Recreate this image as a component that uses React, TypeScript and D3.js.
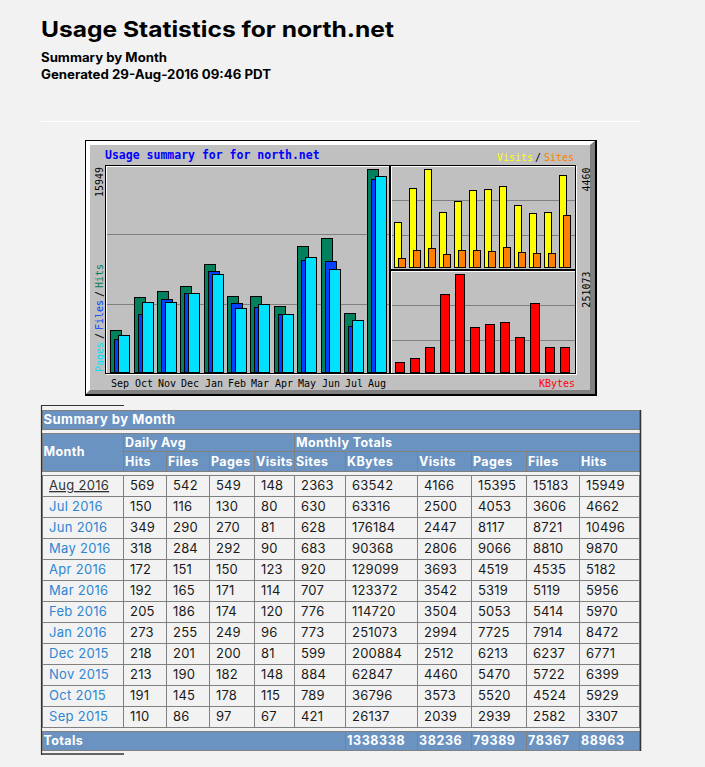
import React from "react";
import * as d3 from "d3";

// ---------- DATA (table order: newest first) ----------
const tableMonths = ["Aug 2016","Jul 2016","Jun 2016","May 2016","Apr 2016","Mar 2016","Feb 2016","Jan 2016","Dec 2015","Nov 2015","Oct 2015","Sep 2015"];
const dailyHits = [569,150,349,318,172,192,205,273,218,213,191,110];
const dailyFiles = [542,116,290,284,151,165,186,255,201,190,145,86];
const dailyPages = [549,130,270,292,150,171,174,249,200,182,178,97];
const dailyVisits = [148,80,81,90,123,114,120,96,81,148,115,67];
const monthSites = [2363,630,628,683,920,707,776,773,599,884,789,421];
const monthKBytes = [63542,63316,176184,90368,129099,123372,114720,251073,200884,62847,36796,26137];
const monthVisits = [4166,2500,2447,2806,3693,3542,3504,2994,2512,4460,3573,2039];
const monthPages = [15395,4053,8117,9066,4519,5319,5053,7725,6213,5470,5520,2939];
const monthFiles = [15183,3606,8721,8810,4535,5119,5414,7914,6237,5722,4524,2582];
const monthHits = [15949,4662,10496,9870,5182,5956,5970,8472,6771,6399,5929,3307];
const totalsValues = [1338338,38236,79389,78367,88963];

const dailyHeaders = ["Hits","Files","Pages","Visits"];
const monthlyHeaders = ["Sites","KBytes","Visits","Pages","Files","Hits"];

// chart series: chronological order
const chartMonths = tableMonths.map(m => m.slice(0, 3)).reverse();
const cHits = [...monthHits].reverse();
const cFiles = [...monthFiles].reverse();
const cPages = [...monthPages].reverse();
const cVisits = [...monthVisits].reverse();
const cSites = [...monthSites].reverse();
const cKBytes = [...monthKBytes].reverse();

// ---------- STYLE ----------
const GREY = "#C0C0C0";
const DKGREY = "#808080";
const GREEN = "#00805C";
const BLUE = "#0040FF";
const CYAN = "#00E0FF";
const YELLOW = "#FFFF00";
const ORANGE = "#FF8000";
const RED = "#FF0000";
const HDR = "#6B93C1";
const PAGEBG = "#F2F2F2";
const MONO = "'DejaVu Sans Mono', monospace";
const SANS = "Inter, 'DejaVu Sans', sans-serif";

function Bar({ x, w, y, y0, fill }: { x: number; w: number; y: number; y0: number; fill: string }) {
  const xt = Math.round(x) + 0.5;
  const yt = Math.round(y) + 0.5;
  return <rect x={xt} y={yt} width={w} height={Math.max(0, Math.round(y0) - Math.round(y))} fill={fill} stroke="#000" strokeWidth={1} />;
}

function Panel({ x0, y0, x1, y1, grid }: { x0: number; y0: number; x1: number; y1: number; grid: number[] }) {
  return (
    <g>
      {grid.map((g, i) => (
        <line key={i} x1={x0 + 1} x2={x1} y1={g + 0.5} y2={g + 0.5} stroke={DKGREY} strokeWidth={1} />
      ))}
      <rect x={x0 + 1.5} y={y0 + 1.5} width={x1 - x0} height={y1 - y0} fill="none" stroke="#fff" strokeWidth={1} />
      <rect x={x0 + 0.5} y={y0 + 0.5} width={x1 - x0} height={y1 - y0} fill="none" stroke="#000" strokeWidth={1} />
    </g>
  );
}

function VText({ x, y, text, fill, anchor = "start" }: { x: number; y: number; text: string; fill: string; anchor?: string }) {
  return (
    <text transform={`translate(${x},${y}) rotate(-90)`} fontFamily={MONO} fontSize={10} fill={fill} textAnchor={anchor as any}>
      {text}
    </text>
  );
}

export default function App() {
  const W = 705, H = 767;

  // chart scales
  const xMain = d3.scaleLinear().domain([0, 11]).range([110.3, 367.3]);
  const yMain = d3.scaleLinear().domain([0, d3.max(cHits) as number]).range([372, 169]);
  const xRight = d3.scaleLinear().domain([0, 11]).range([394, 559]);
  const yVis = d3.scaleLinear().domain([0, d3.max(cVisits) as number]).range([267, 169]);
  const yKb = d3.scaleLinear().domain([0, d3.max(cKBytes) as number]).range([372, 274]);

  // table scales
  const colEdges = [41.5, 123.5, 166.5, 209.5, 254.5, 294.5, 345.5, 417.5, 471.5, 526.5, 579.5, 639.5];
  const rowScale = d3.scaleBand<string>().domain(tableMonths).range([475.5, 727.5]);
  const rowH = rowScale.bandwidth();
  const dataCols = [dailyHits, dailyFiles, dailyPages, dailyVisits, monthSites, monthKBytes, monthVisits, monthPages, monthFiles, monthHits];
  const fmt = d3.format("d");

  const hdrText = { fontSize: 12.5, fontWeight: 700, fill: "#fff", letterSpacing: 0.4 } as any;

  return (
    <div style={{ position: "absolute", left: 0, top: 0, width: W, height: H }}>
      <svg width={W} height={H} style={{ display: "block" }}>
        <rect width={W} height={H} fill={PAGEBG} />

        {/* page heading */}
        <text x={41} y={37} fontFamily={SANS} fontWeight={700} fontSize={22} fill="#000" textLength={353} lengthAdjust="spacingAndGlyphs">
          Usage Statistics for north.net
        </text>
        <text x={41} y={61.5} fontFamily={SANS} fontWeight={700} fontSize={12.5} fill="#000" textLength={126} lengthAdjust="spacingAndGlyphs">
          Summary by Month
        </text>
        <text x={41} y={79} fontFamily={SANS} fontWeight={700} fontSize={12.5} fill="#000" textLength={230} lengthAdjust="spacingAndGlyphs">
          Generated 29-Aug-2016 09:46 PDT
        </text>
        <line x1={41} x2={640} y1={121.5} y2={121.5} stroke="#fff" strokeWidth={1} />

        {/* ---------- chart image ---------- */}
        <rect x={85} y={140} width={512} height={256} fill="#000" />
        <rect x={86} y={141} width={509} height={253} fill={GREY} />
        <polygon points="86,141 595,141 590,145 90,145 90,390 86,394" fill="#fff" />
        <polygon points="595,141 595,394 86,394 90,390 590,390 590,145" fill={DKGREY} />

        <text x={105} y={159} fontFamily={MONO} fontWeight={700} fontSize={11.5} fill="#0000FF">
          Usage summary for for north.net
        </text>

        <Panel x0={105} y0={165} x1={389} y1={373} grid={[234, 304]} />
        <Panel x0={390} y0={165} x1={575} y1={269} grid={[200, 235]} />
        <Panel x0={390} y0={270} x1={575} y1={373} grid={[305, 340]} />

        {/* main bars: hits / files / pages */}
        {chartMonths.map((m, i) => {
          const x = Math.round(xMain(i));
          return (
            <g key={m}>
              <Bar x={x} w={11} y={yMain(cHits[i])} y0={yMain(0)} fill={GREEN} />
              <Bar x={x + 4} w={11} y={yMain(cFiles[i])} y0={yMain(0)} fill={BLUE} />
              <Bar x={x + 8} w={11} y={yMain(cPages[i])} y0={yMain(0)} fill={CYAN} />
              <text x={x + 10} y={387} fontFamily={MONO} fontSize={10} fill="#000" textAnchor="middle">
                {m}
              </text>
            </g>
          );
        })}

        {/* visits / sites */}
        {chartMonths.map((m, i) => {
          const x = Math.round(xRight(i));
          return (
            <g key={"v" + m}>
              <Bar x={x} w={7} y={yVis(cVisits[i])} y0={yVis(0)} fill={YELLOW} />
              <Bar x={x + 4} w={7} y={yVis(cSites[i])} y0={yVis(0)} fill={ORANGE} />
            </g>
          );
        })}

        {/* kbytes */}
        {chartMonths.map((m, i) => {
          const x = Math.round(xRight(i)) + 1;
          return <Bar key={"k" + m} x={x} w={9} y={yKb(cKBytes[i])} y0={yKb(0)} fill={RED} />;
        })}

        {/* axis labels */}
        <VText x={102.5} y={167} text={fmt(d3.max(cHits) as number)} fill="#000" anchor="end" />
        <VText x={589.5} y={167.5} text={fmt(d3.max(cVisits) as number)} fill="#000" anchor="end" />
        <VText x={589.5} y={271.5} text={fmt(d3.max(cKBytes) as number)} fill="#000" anchor="end" />

        <VText x={102.5} y={372} text="Pages" fill={CYAN} />
        <VText x={102.5} y={339} text="/" fill="#000" />
        <VText x={102.5} y={330} text="Files" fill={BLUE} />
        <VText x={102.5} y={297} text="/" fill="#000" />
        <VText x={102.5} y={288} text="Hits" fill={GREEN} />

        <text y={160.5} fontFamily={MONO} fontSize={10}>
          <tspan x={497} fill={YELLOW}>Visits</tspan>
          <tspan x={535} fill="#000">/</tspan>
          <tspan x={544} fill={ORANGE}>Sites</tspan>
        </text>
        <text x={539} y={386.5} fontFamily={MONO} fontSize={10} fill={RED}>
          KBytes
        </text>

        {/* ---------- table ---------- */}
        <g fontFamily={SANS}>
          {/* header band */}
          <rect x={42.5} y={410.5} width={597} height={19} fill={HDR} stroke={DKGREY} />
          <text x={43.5} y={424} {...hdrText} fontSize={13} letterSpacing={0.5}>Summary by Month</text>

          <rect x={42.5} y={433.5} width={81} height={38} fill={HDR} stroke={DKGREY} />
          <text x={43.5} y={456} {...hdrText}>Month</text>

          <rect x={colEdges[1]} y={433.5} width={colEdges[5] - colEdges[1]} height={18} fill={HDR} stroke={DKGREY} />
          <text x={colEdges[1] + 1.5} y={447} {...hdrText}>Daily Avg</text>
          <rect x={colEdges[5]} y={433.5} width={colEdges[11] - colEdges[5]} height={18} fill={HDR} stroke={DKGREY} />
          <text x={colEdges[5] + 1.5} y={447} {...hdrText}>Monthly Totals</text>

          {[...dailyHeaders, ...monthlyHeaders].map((h, c) => (
            <g key={"h" + c}>
              <rect x={colEdges[c + 1]} y={451.5} width={colEdges[c + 2] - colEdges[c + 1]} height={20} fill={HDR} stroke={DKGREY} />
              <text x={colEdges[c + 1] + 1.5} y={466} {...hdrText}>{h}</text>
            </g>
          ))}

          {/* data rows */}
          {tableMonths.map((m, r) => {
            const y = rowScale(m) as number;
            return (
              <g key={"r" + m}>
                <rect x={42.5} y={y} width={colEdges[1] - 42.5} height={rowH} fill="none" stroke={DKGREY} />
                <text x={49} y={y + 14.5} fontSize={13} letterSpacing={0.3} fill={r === 0 ? "#333" : "#2E86D1"} textDecoration={r === 0 ? "underline" : "none"}>
                  {m}
                </text>
                {dataCols.map((col, c) => (
                  <g key={c}>
                    <rect x={colEdges[c + 1]} y={y} width={colEdges[c + 2] - colEdges[c + 1]} height={rowH} fill="none" stroke={DKGREY} />
                    <text x={colEdges[c + 1] + 6.5} y={y + 14.5} fontSize={13} letterSpacing={0.2} fill="#1a1a1a">
                      {fmt(col[r])}
                    </text>
                  </g>
                ))}
              </g>
            );
          })}

          {/* totals */}
          <rect x={42.5} y={731.5} width={colEdges[6] - 42.5} height={19} fill={HDR} stroke={DKGREY} />
          <text x={43.5} y={745} {...hdrText}>Totals</text>
          {totalsValues.map((v, k) => (
            <g key={"t" + k}>
              <rect x={colEdges[6 + k]} y={731.5} width={colEdges[7 + k] - colEdges[6 + k]} height={19} fill={HDR} stroke={DKGREY} />
              <text x={colEdges[6 + k] + 1.5} y={745} {...hdrText} letterSpacing={0.6}>{fmt(v)}</text>
            </g>
          ))}

          {/* dark outer accents */}
          <line x1={41.5} x2={41.5} y1={405} y2={755} stroke="#333" strokeWidth={1.2} />
          <line x1={41} x2={124} y1={405.5} y2={405.5} stroke="#333" strokeWidth={1.2} />
          <line x1={41} x2={124} y1={754} y2={754} stroke="#333" strokeWidth={1.5} />
          <line x1={640.5} x2={640.5} y1={410} y2={751} stroke="#333" strokeWidth={1.5} />
        </g>
      </svg>
    </div>
  );
}
